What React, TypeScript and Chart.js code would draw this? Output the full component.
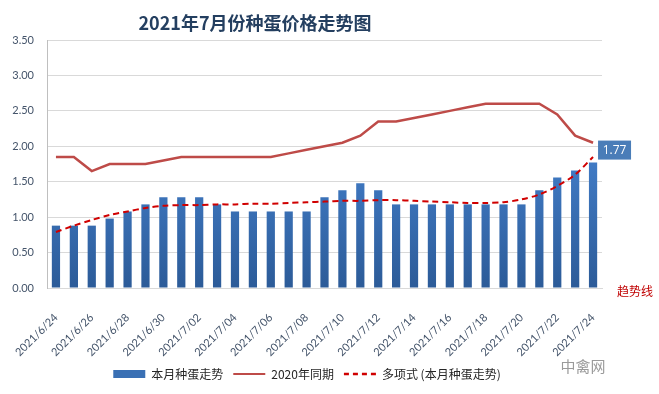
import React, { useEffect, useRef } from 'react';
import { Chart, registerables } from 'chart.js';
Chart.register(...registerables);

const titleText = '2021年7月份种蛋价格走势图';
const categories = [
  '2021/6/24', '2021/6/25', '2021/6/26', '2021/6/27', '2021/6/28', '2021/6/29', '2021/6/30',
  '2021/7/01', '2021/7/02', '2021/7/03', '2021/7/04', '2021/7/05', '2021/7/06', '2021/7/07',
  '2021/7/08', '2021/7/09', '2021/7/10', '2021/7/11', '2021/7/12', '2021/7/13', '2021/7/14',
  '2021/7/15', '2021/7/16', '2021/7/17', '2021/7/18', '2021/7/19', '2021/7/20', '2021/7/21',
  '2021/7/22', '2021/7/23', '2021/7/24',
];
const thisMonth = [
  0.88, 0.88, 0.88, 0.98, 1.08, 1.18, 1.28, 1.28, 1.28, 1.18, 1.08, 1.08, 1.08, 1.08, 1.08,
  1.28, 1.38, 1.48, 1.38, 1.18, 1.18, 1.18, 1.18, 1.18, 1.18, 1.18, 1.18, 1.38, 1.56, 1.66, 1.77,
];
const lastYear = [
  1.85, 1.85, 1.65, 1.75, 1.75, 1.75, 1.80, 1.85, 1.85, 1.85, 1.85, 1.85, 1.85, 1.90, 1.95,
  2.00, 2.05, 2.15, 2.35, 2.35, 2.40, 2.45, 2.50, 2.55, 2.60, 2.60, 2.60, 2.60, 2.45, 2.15, 2.05,
];
const trendLine = [
  0.79, 0.88, 0.96, 1.03, 1.08, 1.13, 1.16, 1.17, 1.17, 1.18, 1.18, 1.19, 1.19, 1.20, 1.21,
  1.22, 1.23, 1.23, 1.24, 1.24, 1.23, 1.22, 1.21, 1.20, 1.20, 1.21, 1.25, 1.32, 1.44, 1.60, 1.85,
];
const seriesNames = ['本月种蛋走势', '2020年同期', '多项式 (本月种蛋走势)'];
const dataLabel = '1.77';
const trendText = '趋势线';
const brandText = '中禽网';

const overlay = {
  id: 'overlay',
  afterDraw(chart: any) {
    const ctx = chart.ctx;
    ctx.save();
    ctx.textAlign = 'center';
    ctx.textBaseline = 'middle';
    ctx.font = 'bold 18px "Noto Sans CJK SC"';
    ctx.fillStyle = '#243F60';
    ctx.fillText(titleText, 255, 23);

    const meta = chart.getDatasetMeta(0);
    const el = meta.data[meta.data.length - 1];
    if (el) {
      const bx = el.x + 5;
      const by = el.y - 22;
      ctx.fillStyle = '#4A7DB8';
      ctx.fillRect(bx, by, 33, 19);
      ctx.fillStyle = '#ffffff';
      ctx.font = '12px "Open Sans"';
      ctx.fillText(dataLabel, bx + 16.5, by + 10);
    }

    ctx.fillStyle = '#C00000';
    ctx.font = '12px "Noto Sans CJK SC"';
    ctx.fillText(trendText, 635, 291);

    ctx.fillStyle = '#9a9a9a';
    ctx.font = '15px "Noto Sans CJK SC"';
    ctx.fillText(brandText, 583, 366);
    ctx.restore();
  },
};

export default function App() {
  const ref = useRef<HTMLCanvasElement>(null);
  useEffect(() => {
    if (!ref.current) return;
    const chart = new Chart(ref.current, {
      type: 'bar',
      data: {
        labels: categories,
        datasets: [
          {
            type: 'bar',
            label: seriesNames[0],
            data: thisMonth,
            order: 2,
            backgroundColor: (c: any) => {
              const area = c.chart.chartArea;
              if (!area) return '#3C72B8';
              const g = c.chart.ctx.createLinearGradient(0, area.top + 100, 0, area.bottom);
              g.addColorStop(0, '#4480CC');
              g.addColorStop(1, '#2C5B98');
              return g;
            },
            barPercentage: 0.46,
            categoryPercentage: 1,
          },
          {
            type: 'line',
            label: seriesNames[1],
            data: lastYear,
            order: 1,
            borderColor: '#BE4B48',
            backgroundColor: '#BE4B48',
            borderWidth: 2.5,
            pointRadius: 0,
            tension: 0,
          },
          {
            type: 'line',
            label: seriesNames[2],
            data: trendLine,
            order: 0,
            borderColor: '#D00000',
            backgroundColor: '#D00000',
            borderWidth: 2,
            borderDash: [6, 4],
            pointRadius: 0,
            tension: 0.3,
          },
        ] as any,
      },
      options: {
        responsive: false,
        animation: false,
        layout: { padding: { top: 40, right: 57, left: 12, bottom: 4 } },
        plugins: {
          title: { display: false },
          tooltip: { enabled: false },
          legend: {
            position: 'bottom',
            labels: {
              usePointStyle: true,
              pointStyleWidth: 32,
              boxHeight: 8,
              padding: 10,
              color: '#262626',
              font: { size: 12, family: '"Noto Sans CJK SC"' },
              sort: (a: any, b: any) => a.datasetIndex - b.datasetIndex,
              generateLabels: (chart: any) =>
                chart.data.datasets.map((ds: any, i: number) => ({
                  text: ds.label,
                  datasetIndex: i,
                  fillStyle: i === 0 ? '#3A70B4' : ds.borderColor,
                  strokeStyle: i === 0 ? '#3A70B4' : ds.borderColor,
                  lineWidth: i === 0 ? 0 : i === 1 ? 2 : 2.5,
                  lineDash: i === 2 ? [5, 4] : [],
                  pointStyle: i === 0 ? 'rect' : 'line',
                  fontColor: '#262626',
                  hidden: false,
                })),
            },
          },
        },
        scales: {
          x: {
            grid: { display: false },
            border: { display: true, color: '#D9D9D9' },
            ticks: {
              autoSkip: false,
              maxRotation: 45,
              minRotation: 45,
              padding: 15,
              color: '#44546A',
              font: { size: 11, family: 'Lato' },
              callback: (_v: any, i: number) => (i % 2 === 0 ? categories[i] : ''),
            },
            afterFit: (s: any) => {
              s.height = 70;
            },
          },
          y: {
            min: 0,
            max: 3.5,
            grid: { color: '#D9D9D9', drawTicks: false },
            border: { display: true, color: '#BFBFBF' },
            ticks: {
              stepSize: 0.5,
              padding: 13,
              color: '#44546A',
              font: { size: 11, family: 'Lato' },
              callback: (v: any) => Number(v).toFixed(2),
            },
            afterFit: (s: any) => {
              s.width = 35;
            },
          },
        },
      },
      plugins: [overlay],
    } as any);
    return () => chart.destroy();
  }, []);
  return (
    <div style={{ position: 'fixed', left: 0, top: 0, width: 659, height: 394, background: '#fff' }}>
      <canvas ref={ref} width={659} height={394} style={{ display: 'block' }} />
    </div>
  );
}
